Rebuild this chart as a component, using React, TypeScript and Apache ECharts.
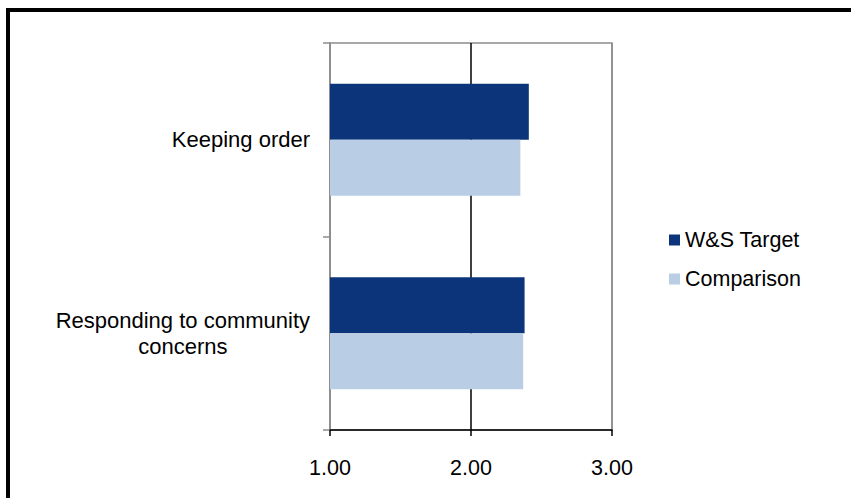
import React, { useEffect, useRef } from "react";
import * as echarts from "echarts";

// Survey items, listed top to bottom
const categories = ["Keeping order", "Responding to community concerns"];
const seriesNames = ["W&S Target", "Comparison"];
const targetValues = [2.41, 2.38];
const comparisonValues = [2.35, 2.37];
const xTicks = [1, 2, 3];

const FONT = "'Liberation Sans', Arial, sans-serif";

// Greedy word wrap for long category names
function wrap(text: string, maxChars: number): string[] {
  const words = text.split(" ");
  const lines: string[] = [];
  let cur = "";
  for (const w of words) {
    const next = cur ? cur + " " + w : w;
    if (next.length > maxChars && cur) {
      lines.push(cur);
      cur = w;
    } else {
      cur = next;
    }
  }
  if (cur) lines.push(cur);
  return lines;
}

export default function App() {
  const ref = useRef<HTMLDivElement>(null);

  useEffect(() => {
    if (!ref.current) return;
    const chart = echarts.init(ref.current, undefined, { renderer: "svg" });
    chart.setOption({
      animation: false,
      backgroundColor: "#ffffff",
      textStyle: { fontFamily: FONT },
      graphic: [
        {
          type: "rect",
          shape: { x: 8, y: 10, width: 900, height: 600 },
          style: { fill: "none", stroke: "#000000", lineWidth: 4 },
          silent: true,
        },
      ],
      grid: {
        left: 330,
        right: 239,
        top: 43,
        bottom: 68,
        show: true,
        borderColor: "#8c8c8c",
        borderWidth: 1.5,
        backgroundColor: "transparent",
      },
      legend: {
        orient: "vertical",
        left: 664,
        top: 224,
        icon: "rect",
        itemWidth: 11,
        itemHeight: 11,
        itemGap: 17,
        data: seriesNames,
        textStyle: { fontSize: 21.5, color: "#000000", fontFamily: FONT, lineHeight: 22 },
      },
      xAxis: {
        type: "value",
        min: xTicks[0],
        max: xTicks[xTicks.length - 1],
        interval: 1,
        axisLine: { show: true, lineStyle: { color: "#000000", width: 1.5 } },
        axisTick: { show: true, length: 6, lineStyle: { color: "#000000", width: 1.5 } },
        axisLabel: {
          margin: 27,
          fontSize: 21.5,
          color: "#000000",
          fontFamily: FONT,
          formatter: (v: number) => v.toFixed(2),
        },
        splitLine: {
          show: true,
          lineStyle: { color: ["#8c8c8c", "#000000", "#8c8c8c"], width: 1.5 },
        },
      },
      yAxis: {
        type: "category",
        data: categories,
        inverse: true,
        axisLine: { show: true, lineStyle: { color: "#8c8c8c", width: 1.5 } },
        axisTick: { show: true, length: 7, lineStyle: { color: "#8c8c8c", width: 1.5 } },
        axisLabel: {
          margin: 20,
          color: "#000000",
          fontFamily: FONT,
          fontSize: 22,
          formatter: (v: string) =>
            wrap(v, 24)
              .map((l) => "{c|" + l + "}")
              .join("\n"),
          rich: {
            c: {
              align: "center",
              fontSize: 22,
              lineHeight: 26,
              color: "#000000",
              fontFamily: FONT,
            },
          },
        },
      },
      series: [
        {
          name: seriesNames[0],
          type: "bar",
          data: targetValues,
          barGap: "0%",
          barCategoryGap: "42%",
          itemStyle: { color: "#0b347a" },
        },
        {
          name: seriesNames[1],
          type: "bar",
          data: comparisonValues,
          barGap: "0%",
          barCategoryGap: "42%",
          itemStyle: { color: "#b9cde4" },
        },
      ],
    });
    return () => chart.dispose();
  }, []);

  return (
    <div
      ref={ref}
      style={{ position: "fixed", left: 0, top: 0, width: 851, height: 498 }}
    />
  );
}
